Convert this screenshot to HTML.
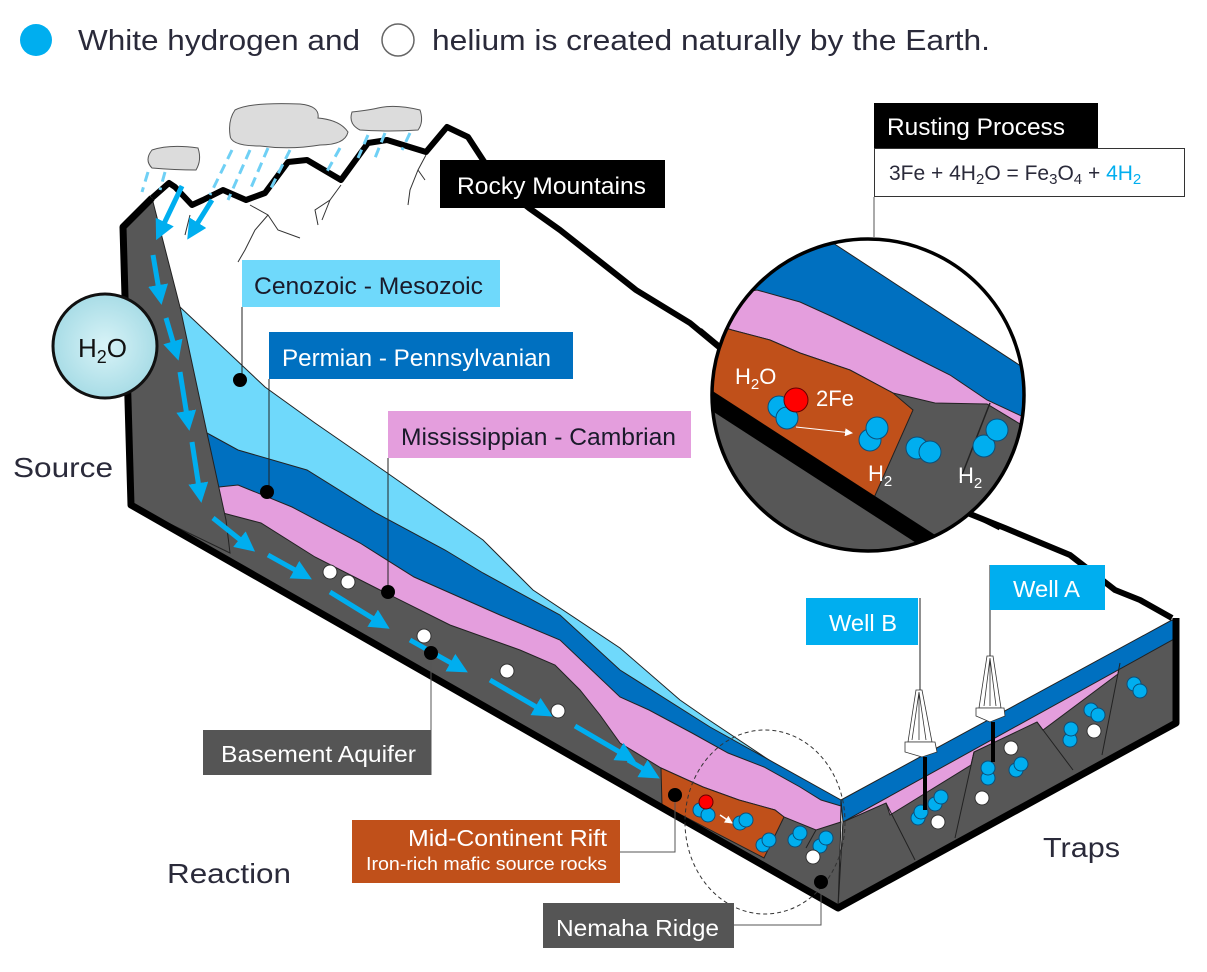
<!DOCTYPE html>
<html><head><meta charset="utf-8"><style>
html,body{margin:0;padding:0;background:#fff}
svg{display:block}
text{font-family:"Liberation Sans",Arial,sans-serif}
</style></head><body>
<svg width="1207" height="972" viewBox="0 0 1207 972" xmlns="http://www.w3.org/2000/svg">
<defs>
<marker id="ah" markerWidth="4" markerHeight="4" refX="2.2" refY="2" orient="auto" markerUnits="strokeWidth"><path d="M0,0 L4,2 L0,4 z" fill="#00aeef"/></marker>
<marker id="wh" markerWidth="8" markerHeight="8" refX="7" refY="4" orient="auto" markerUnits="userSpaceOnUse"><path d="M0,0 L8,4 L0,8 z" fill="#fff"/></marker>
<radialGradient id="wg" cx="0.5" cy="0.5" r="0.6"><stop offset="0" stop-color="#d8f3f7"/><stop offset="1" stop-color="#9fd8e3"/></radialGradient>
<clipPath id="mc"><circle cx="868" cy="395" r="156"/></clipPath>
</defs>

<!-- legend -->
<circle cx="36" cy="40" r="16" fill="#00aeef"/>
<text x="78" y="50" font-size="29" fill="#2a2a3a" textLength="282" lengthAdjust="spacingAndGlyphs">White hydrogen and</text>
<circle cx="398" cy="40" r="16" fill="#fff" stroke="#666" stroke-width="1.5"/>
<text x="432" y="50" font-size="29" fill="#2a2a3a" textLength="558" lengthAdjust="spacingAndGlyphs">helium is created naturally by the Earth.</text>

<!-- mountain outline -->
<polyline points="152,198 169,183 175,187 192,205 203,200 223,190 246,200 265,193 288,162 307,160 341,180 368,143 387,140 426,152 447,127 468,137 483,160 500,185 529,208 560,230 598,260 636,290 690,323 725,352" fill="none" stroke="#000" stroke-width="6" stroke-linejoin="round"/>
<polyline points="960,510 1005,528 1070,555 1115,590 1140,600 1172,618" fill="none" stroke="#000" stroke-width="6" stroke-linejoin="round"/>
<!-- cracks -->
<g fill="none" stroke="#333" stroke-width="1">
<path d="M250,205 L268,215 L278,230 L300,238 M268,215 L255,230 L245,250 L238,262"/>
<path d="M341,185 L330,200 L315,210 L318,225 M330,200 L322,220"/>
<path d="M426,155 L418,170 L410,190 L408,205 M418,170 L425,180"/>
<path d="M190,215 L185,235"/>
</g>
<!-- clouds -->
<g fill="#dcdcdc" stroke="#555" stroke-width="1">
<path d="M152,150 Q170,144 198,148 Q202,160 196,170 Q175,170 152,168 Q144,160 152,150 z"/>
<path d="M235,110 Q250,102 300,104 Q320,106 318,118 Q340,120 348,132 Q345,145 320,145 Q290,150 260,146 Q230,146 230,135 Q228,120 235,110 z"/>
<path d="M352,112 Q370,110 378,108 Q395,104 420,110 Q424,122 418,130 Q390,132 360,130 Q348,124 352,112 z"/>
</g>
<!-- rain -->
<g stroke="#6fd0f5" stroke-width="3" stroke-dasharray="10,6" fill="none">
<line x1="148" y1="172" x2="142" y2="192"/>
<line x1="165" y1="172" x2="160" y2="190"/>
<line x1="232" y1="150" x2="210" y2="195"/>
<line x1="250" y1="150" x2="228" y2="200"/>
<line x1="268" y1="148" x2="250" y2="190"/>
<line x1="290" y1="150" x2="270" y2="190"/>
<line x1="340" y1="148" x2="325" y2="175"/>
<line x1="368" y1="135" x2="358" y2="158"/>
<line x1="385" y1="133" x2="375" y2="158"/>
<line x1="410" y1="133" x2="402" y2="150"/>
</g>

<!-- left layers -->
<g stroke="#222" stroke-width="1">
<polygon fill="#6fd9fb" points="180,307 265,387 315,423 383,470 483,540 533,590 620,648 680,700 706,718 841,808 838,908 131,505"/>
<polygon fill="#0070c0" points="207,433 238,450 307,470 376,513 445,550 483,573 560,615 620,670 710,727 841,800 838,908 131,505"/>
<polygon fill="#e49edd" points="219,487 238,485 292,507 360,543 414,577 500,615 560,640 620,697 649,710 692,733 728,753 764,767 800,787 821,800 841,806 838,908 131,505"/>
<polygon fill="#575757" points="223,513 261,523 315,557 380,590 450,625 520,650 555,665 580,690 600,715 620,743 661,768 703,787 739,800 775,810 784,817 816,830 841,822 838,908 131,505"/>
<polygon fill="#c0501a" points="661,768 703,787 739,800 775,810 784,817 764,858 662,805"/>
<polygon fill="#575757" points="123,227 152,198 180,307 207,433 226,520 230,553 131,505"/>
</g>
<line x1="816" y1="830" x2="806" y2="848" stroke="#222" stroke-width="1"/>
<!-- right layers -->
<g stroke="#222" stroke-width="1">
<polygon fill="#e49edd" points="843,822 1176,637 1176,723 838,908"/>
<polygon fill="#575757" points="843,822 886,803 890,815 971,765 974,752 1037,722 1043,730 1118,674 1120,663 1176,638 1176,723 838,908"/>
<polygon fill="#0070c0" points="841,800 1172,620 1176,622 1176,638 843,822"/>
<path d="M886,803 L915,860 M974,752 L955,838 M1037,722 L1073,770 M1120,663 L1102,755" fill="none"/>
</g>
<!-- thick outline -->
<polyline points="152,198 123,227 131,505 838,908 1176,723 1176,618" fill="none" stroke="#000" stroke-width="7" stroke-linejoin="round"/>

<!-- blue flow arrows -->
<g stroke="#00aeef" stroke-width="5" fill="none" marker-end="url(#ah)">
<line x1="182" y1="186" x2="160" y2="232"/>
<line x1="212" y1="200" x2="192" y2="232"/>
<line x1="153" y1="255" x2="160" y2="296"/>
<line x1="166" y1="318" x2="176" y2="352"/>
<line x1="180" y1="372" x2="188" y2="422"/>
<line x1="192" y1="442" x2="200" y2="494"/>
<line x1="213" y1="518" x2="248" y2="546"/>
<line x1="268" y1="555" x2="304" y2="575"/>
<line x1="330" y1="592" x2="382" y2="624"/>
<line x1="410" y1="640" x2="460" y2="668"/>
<line x1="490" y1="680" x2="545" y2="712"/>
<line x1="575" y1="726" x2="628" y2="757"/>
<line x1="628" y1="760" x2="652" y2="774"/>
</g>

<!-- particles -->
<g stroke="#0b4f7a" stroke-width="1" fill="#00aeef">
<circle cx="700" cy="810" r="7"/><circle cx="708" cy="815" r="7"/>
<circle cx="740" cy="823" r="7"/><circle cx="746" cy="820" r="7"/>
<circle cx="763" cy="845" r="7"/><circle cx="769" cy="840" r="7"/>
<circle cx="795" cy="840" r="7"/><circle cx="800" cy="833" r="7"/>
<circle cx="820" cy="846" r="7"/><circle cx="826" cy="838" r="7"/>
<circle cx="918" cy="818" r="7"/><circle cx="921" cy="812" r="7"/>
<circle cx="935" cy="804" r="7"/><circle cx="941" cy="797" r="7"/>
<circle cx="988" cy="778" r="7"/><circle cx="988" cy="768" r="7"/>
<circle cx="1016" cy="770" r="7"/><circle cx="1021" cy="764" r="7"/>
<circle cx="1070" cy="740" r="7"/><circle cx="1071" cy="729" r="7"/>
<circle cx="1091" cy="710" r="7"/><circle cx="1098" cy="715" r="7"/>
<circle cx="1134" cy="684" r="7"/><circle cx="1140" cy="691" r="7"/>
</g>
<circle cx="706" cy="802" r="7" fill="#f00" stroke="#600"/>
<line x1="720" y1="815" x2="732" y2="823" stroke="#fff" stroke-width="1.5" marker-end="url(#wh)"/>
<g fill="#fff" stroke="#333" stroke-width="1">
<circle cx="330" cy="572" r="7"/><circle cx="348" cy="582" r="7"/>
<circle cx="424" cy="636" r="7"/><circle cx="507" cy="671" r="7"/>
<circle cx="558" cy="711" r="7"/><circle cx="813" cy="857" r="7"/>
<circle cx="938" cy="822" r="7"/><circle cx="982" cy="798" r="7"/>
<circle cx="1011" cy="748" r="7"/><circle cx="1094" cy="731" r="7"/>
</g>
<!-- dashed ellipse -->
<ellipse cx="765" cy="822" rx="80" ry="92" fill="none" stroke="#333" stroke-width="1" stroke-dasharray="4,3"/>

<!-- wells -->
<g fill="#fff" stroke="#333" stroke-width="0.8">
<path d="M916,690 L922,690 L932,742 L908,742 z"/>
<path d="M919,692 L912,740 M919,692 L919,740 M919,692 L926,740"/>
<path d="M905,742 L935,742 L937,752 L922,757 L905,752 z"/>
<path d="M987,656 L993,656 L1001,708 L979,708 z"/>
<path d="M990,658 L984,706 M990,658 L990,706 M990,658 L996,706"/>
<path d="M976,708 L1004,708 L1005,716 L990,722 L976,716 z"/>
</g>
<line x1="925" y1="757" x2="925" y2="810" stroke="#000" stroke-width="4"/>
<line x1="993" y1="722" x2="993" y2="762" stroke="#000" stroke-width="4"/>
<line x1="920" y1="598" x2="920" y2="690" stroke="#222" stroke-width="1"/>
<line x1="990" y1="565" x2="990" y2="656" stroke="#222" stroke-width="1"/>
<rect x="806" y="598" width="112" height="47" fill="#00aeef"/>
<text x="829" y="631" font-size="23" fill="#fff" textLength="68" lengthAdjust="spacingAndGlyphs">Well B</text>
<rect x="990" y="565" width="115" height="45" fill="#00aeef"/>
<text x="1013" y="597" font-size="23" fill="#fff" textLength="67" lengthAdjust="spacingAndGlyphs">Well A</text>

<!-- magnifier -->
<g clip-path="url(#mc)">
<rect x="700" y="220" width="340" height="350" fill="#fff"/>
<polygon fill="#0070c0" stroke="#222" points="833,243 1030,372 1030,600 700,600 700,280"/>
<polygon fill="#e49edd" stroke="#222" points="757,290 800,302 833,317 870,335 900,350 950,375 987,400 1030,420 1030,600 700,600 700,300"/>
<polygon fill="#575757" stroke="#222" points="732,330 770,340 800,353 850,370 893,393 935,403 987,404 1030,430 1030,600 700,600 700,320"/>
<polygon fill="#c0501a" stroke="#222" points="700,320 732,330 770,340 800,353 850,370 893,393 913,410 873,500 700,400"/>
<line x1="990" y1="403" x2="960" y2="480" stroke="#222" stroke-width="1.5"/>
<line x1="700" y1="393" x2="935" y2="545" stroke="#000" stroke-width="17"/>
<g stroke="#0b4f7a" stroke-width="1" fill="#00aeef">
<circle cx="779" cy="407" r="11"/><circle cx="787" cy="418" r="11"/>
<circle cx="870" cy="440" r="11"/><circle cx="877" cy="428" r="11"/>
<circle cx="917" cy="448" r="11"/><circle cx="930" cy="452" r="11"/>
<circle cx="984" cy="446" r="11"/><circle cx="997" cy="430" r="11"/>
</g>
<circle cx="796" cy="400" r="12" fill="#f00" stroke="#600"/>
<line x1="796" y1="427" x2="852" y2="433" stroke="#fff" stroke-width="1" marker-end="url(#wh)"/>
<text x="735" y="384" font-size="22" fill="#fff">H<tspan font-size="15" dy="5">2</tspan><tspan dy="-5">O</tspan></text>
<text x="816" y="406" font-size="22" fill="#fff">2Fe</text>
<text x="868" y="481" font-size="22" fill="#fff">H<tspan font-size="15" dy="5">2</tspan></text>
<text x="958" y="483" font-size="22" fill="#fff">H<tspan font-size="15" dy="5">2</tspan></text>
</g>
<line x1="700" y1="330" x2="718" y2="345" stroke="#000" stroke-width="5"/>
<line x1="980" y1="518" x2="1000" y2="528" stroke="#000" stroke-width="5"/>
<circle cx="868" cy="395" r="156" fill="none" stroke="#000" stroke-width="3.5"/>

<!-- Rusting process -->
<line x1="874" y1="197" x2="874" y2="237" stroke="#555" stroke-width="1"/>
<rect x="874" y="103" width="224" height="46" fill="#000"/>
<text x="887" y="135" font-size="24" fill="#fff" textLength="178" lengthAdjust="spacingAndGlyphs">Rusting Process</text>
<rect x="874.5" y="148.5" width="310" height="48" fill="#fff" stroke="#333" stroke-width="1"/>
<text x="889" y="180" font-size="21" fill="#2a2a3a">3Fe + 4H<tspan font-size="15" dy="4">2</tspan><tspan dy="-4">O = Fe</tspan><tspan font-size="15" dy="4">3</tspan><tspan dy="-4">O</tspan><tspan font-size="15" dy="4">4</tspan><tspan dy="-4"> + </tspan><tspan fill="#00aeef">4H</tspan><tspan fill="#00aeef" font-size="15" dy="4">2</tspan></text>

<!-- Rocky mountains -->
<rect x="440" y="160" width="225" height="48" fill="#000"/>
<text x="457" y="194" font-size="24" fill="#fff" textLength="189" lengthAdjust="spacingAndGlyphs">Rocky Mountains</text>

<!-- layer labels -->
<line x1="242" y1="307" x2="242" y2="380" stroke="#222" stroke-width="1"/>
<circle cx="240" cy="380" r="7" fill="#000"/>
<rect x="242" y="260" width="258" height="47" fill="#6fd9fb"/>
<text x="254" y="294" font-size="24" fill="#1a1a2a" textLength="229" lengthAdjust="spacingAndGlyphs">Cenozoic - Mesozoic</text>
<line x1="269" y1="379" x2="269" y2="492" stroke="#222" stroke-width="1"/>
<circle cx="267" cy="492" r="7" fill="#000"/>
<rect x="269" y="332" width="304" height="47" fill="#0070c0"/>
<text x="282" y="366" font-size="24" fill="#fff" textLength="269" lengthAdjust="spacingAndGlyphs">Permian - Pennsylvanian</text>
<line x1="388" y1="458" x2="388" y2="592" stroke="#222" stroke-width="1"/>
<circle cx="388" cy="592" r="7" fill="#000"/>
<rect x="388" y="411" width="303" height="47" fill="#e49edd"/>
<text x="401" y="445" font-size="24" fill="#1a1a2a" textLength="275" lengthAdjust="spacingAndGlyphs">Mississippian - Cambrian</text>

<line x1="431" y1="653" x2="431" y2="775" stroke="#555" stroke-width="1"/>
<circle cx="431" cy="653" r="7" fill="#000"/>
<rect x="203" y="730" width="228" height="45" fill="#555"/>
<text x="221" y="762" font-size="23" fill="#fff" textLength="195" lengthAdjust="spacingAndGlyphs">Basement Aquifer</text>

<polyline points="675,795 675,852 620,852" fill="none" stroke="#555" stroke-width="1"/>
<circle cx="675" cy="795" r="7" fill="#000"/>
<rect x="352" y="820" width="268" height="63" fill="#c0501a"/>
<text x="408" y="846" font-size="23" fill="#fff" textLength="199" lengthAdjust="spacingAndGlyphs">Mid-Continent Rift</text>
<text x="366" y="870" font-size="18" fill="#fff" textLength="241" lengthAdjust="spacingAndGlyphs">Iron-rich mafic source rocks</text>

<polyline points="821,882 821,925 734,925" fill="none" stroke="#555" stroke-width="1"/>
<circle cx="821" cy="882" r="7" fill="#000"/>
<rect x="543" y="903" width="191" height="45" fill="#555"/>
<text x="556" y="936" font-size="23" fill="#fff" textLength="163" lengthAdjust="spacingAndGlyphs">Nemaha Ridge</text>

<!-- water circle -->
<circle cx="105" cy="346" r="52" fill="url(#wg)" stroke="#111" stroke-width="3"/>
<text x="78" y="357" font-size="26" fill="#111">H<tspan font-size="18" dy="6">2</tspan><tspan dy="-6">O</tspan></text>

<text x="13" y="477" font-size="28" fill="#2a2a3a" textLength="100" lengthAdjust="spacingAndGlyphs">Source</text>
<text x="167" y="883" font-size="28" fill="#2a2a3a" textLength="124" lengthAdjust="spacingAndGlyphs">Reaction</text>
<text x="1043" y="857" font-size="28" fill="#2a2a3a" textLength="77" lengthAdjust="spacingAndGlyphs">Traps</text>
</svg>
</body></html>
